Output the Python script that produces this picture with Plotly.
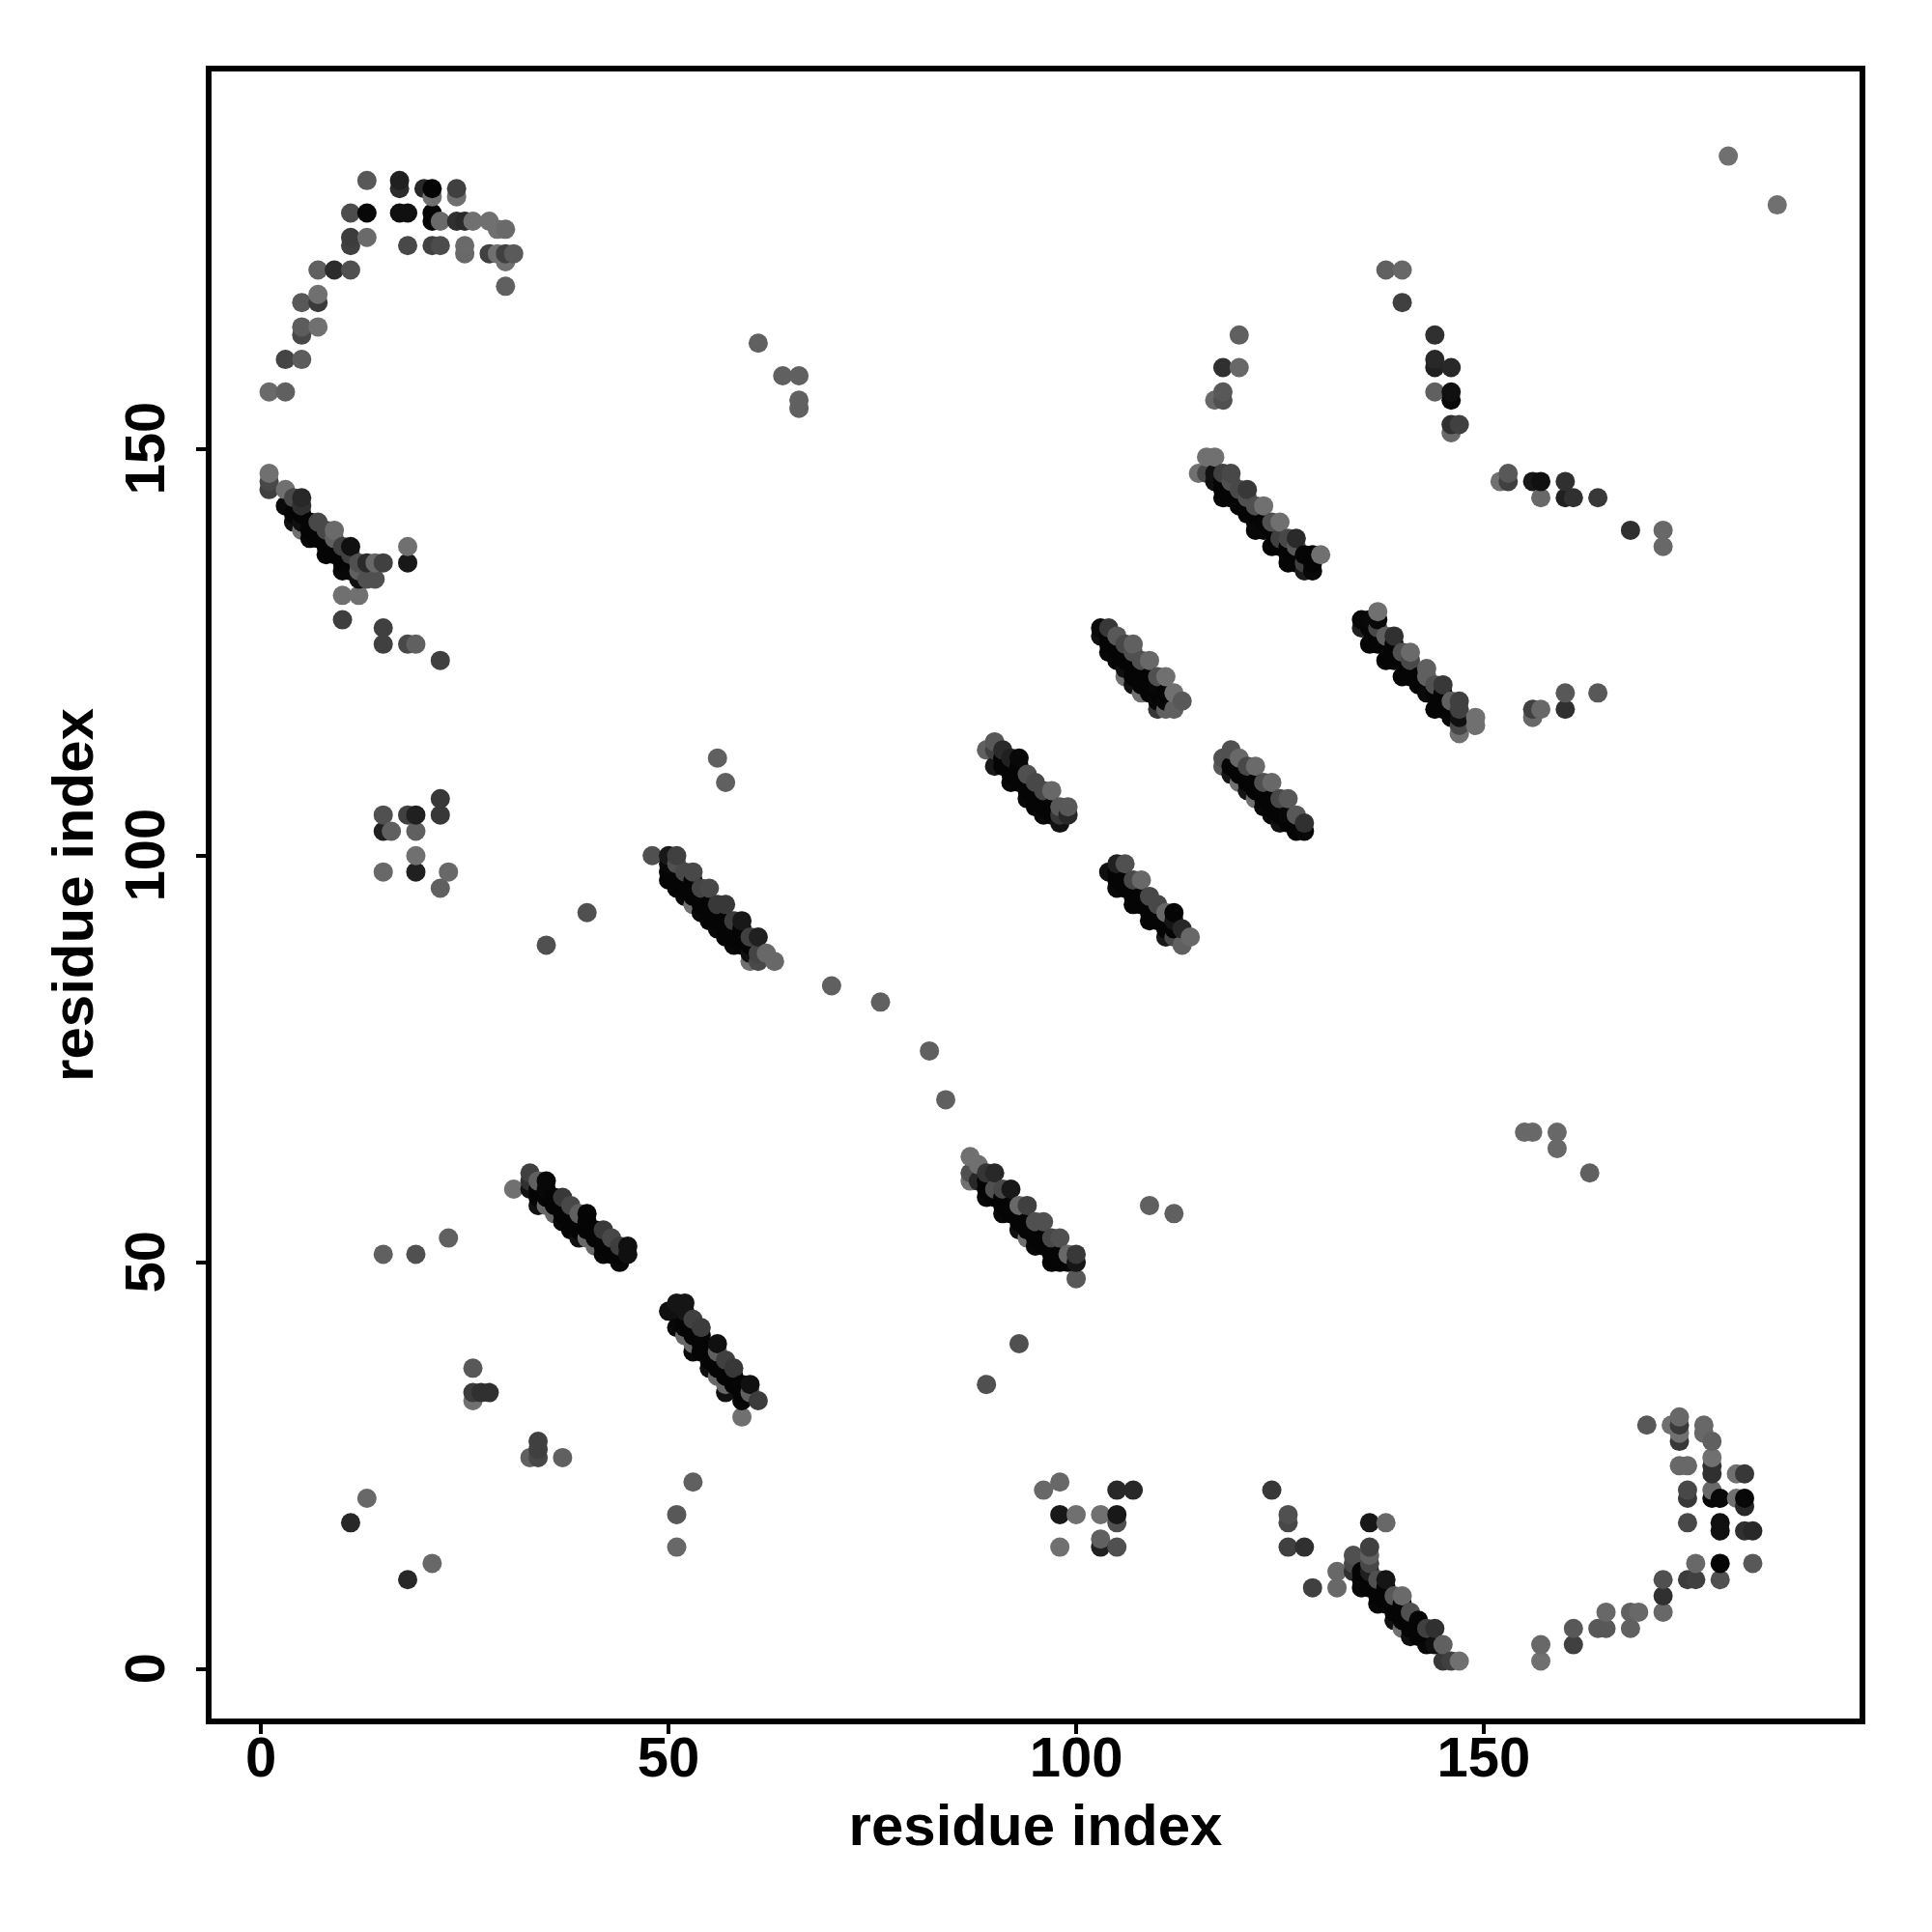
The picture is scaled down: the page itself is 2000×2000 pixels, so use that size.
import plotly.graph_objects as go

# Each contact: (residue i, residue j, grey level of the contact: 0 = strongest, 112 = weakest)
arc_top_left = [
(1,157,106),(3,157,96),(3,161,68),(5,161,92),(5,164,72),(5,165,92),(7,165,112),(5,168,88),(7,168,58),(7,169,112),
(7,172,96),(9,172,44),(11,172,80),(11,175,64),(11,176,60),(13,176,106),(11,179,76),(13,179,8),(13,183,88),
(17,183,32),(17,182,44),(17,179,16),(18,179,16),(18,175,72),(20,182,40),(21,182,5),(21,181,112),(24,182,64),(24,181,112),
(21,179,5),(21,178,5),(22,178,106),(24,178,48),(25,178,42),(26,178,112),(28,178,112),(29,177,112),(30,177,106),
(21,175,64),(22,175,76),(25,175,106),(25,174,104),(28,174,64),(29,174,112),(30,174,64),(31,174,90),(30,173,112),(30,170,96),
]
diag_1 = [
(1,147,112),(1,146,72),(1,145,64),(3,145,112),(4,144,72),(5,144,40),(5,143,48),(3,143,10),(4,141,16),(5,141,16),(6,141,5),
(7,141,72),(8,140,72),(9,140,106),(5,140,112),(6,139,8),(7,139,5),(9,139,96),(8,137,5),(9,137,5),(10,138,64),(11,138,16),
(10,135,8),(11,135,8),(11,137,64),(12,136,80),(13,136,42),(14,136,104),(15,136,64),(12,134,16),(13,134,80),(14,134,80),(12,135,96),
(18,138,112),(18,136,24),(10,132,112),(12,132,112),(10,129,62),(15,128,64),(15,126,64),(18,126,72),(19,126,96),(22,124,64),
(4,142,5),(5,142,5),(6,140,5),(7,140,5),(8,139,5),(8,138,5),(9,138,5),(10,137,5),(10,136,5),(11,136,5),
]
left_scatter = [
(15,51,96),(19,51,80),(23,53,96),(26,37,88),(26,34,60),(26,33,112),(27,34,48),(28,34,48),(34,28,64),(34,27,64),(33,26,96),(34,26,72),(37,26,96),
(13,21,104),(11,18,40),(18,11,40),(21,13,104),(35,89,80),(40,93,80),
(15,105,80),(18,105,64),(19,105,32),(22,107,56),(22,105,56),(15,103,32),(16,103,96),(19,103,96),(19,100,112),(19,98,32),(15,98,104),(23,98,104),(22,96,96),
(56,112,96),(57,109,96),(61,163,96),(64,159,96),(66,159,96),(66,156,96),(66,155,96),
(70,84,96),(76,82,96),(82,76,96),(84,70,96),(109,57,96),(112,56,96),(93,40,80),(89,35,80),(53,23,96),(51,19,88),(51,15,104),
]
lower_middle = [
(96,22,104),(98,23,104),(98,19,24),(100,19,112),(98,15,112),(103,19,112),(103,16,96),(103,15,32),(105,22,40),(107,22,40),(105,19,24),(105,18,80),(105,15,80),
(124,22,56),(126,19,80),(126,18,72),(126,15,64),(128,15,48),(129,10,64),
]
upper_right = [
(180,186,112),(186,180,112),(138,172,96),(140,172,104),(140,168,64),(144,164,48),(144,161,40),(144,160,32),(146,160,40),(144,157,96),(146,157,16),(146,156,8),
(146,153,48),(147,153,64),(146,152,104),(120,164,96),(118,160,48),(120,160,104),(118,157,88),(117,156,104),(118,156,80),
(152,146,112),(153,147,88),(153,146,64),(156,146,24),(157,146,16),(157,144,104),(160,146,48),(160,144,32),(161,144,48),(164,144,56),(168,140,48),(172,140,104),(172,138,104),
(156,118,64),(156,117,104),(157,118,104),(160,120,88),(160,118,48),(164,120,88),
(155,66,104),(156,66,104),(159,66,104),(159,64,104),(163,61,96),
]
diag_2 = [
(116,149,112),(117,149,112),(115,147,112),(116,147,72),(117,147,16),(118,147,64),(119,147,72),(117,146,16),(118,145,5),(118,144,8),(119,146,80),(120,145,72),(121,145,56),
(120,143,5),(121,144,80),(122,143,80),(123,143,112),(122,141,8),(122,140,8),(123,140,8),(124,141,80),(125,141,112),(124,138,5),(125,139,64),(126,139,72),(127,139,42),(127,138,88),
(126,136,5),(127,136,5),(128,137,5),(129,137,5),(130,137,112),(128,135,28),(129,135,8),(129,136,5),(128,136,64),
(118,146,5),(119,145,5),(119,144,5),(120,144,5),(121,143,5),(121,142,5),(122,142,5),(123,141,5),(124,140,5),(125,138,5),(126,138,5),(126,137,5),(127,137,5),
]
diag_3 = [
(135,129,8),(135,128,32),(136,129,8),(136,126,5),(137,130,112),(137,129,8),(137,128,72),(138,127,96),(139,127,48),(138,124,5),(137,126,5),(140,125,80),(141,125,106),(141,124,72),
(140,122,5),(141,122,5),(139,124,5),(143,123,96),(143,122,96),(143,120,10),(144,121,80),(145,121,56),(144,118,5),(146,119,96),(147,119,64),(147,118,64),(146,117,8),(147,117,16),
(147,116,72),(147,115,112),(149,117,112),(149,116,112),(145,118,5),
(136,128,5),(137,127,5),(138,126,5),(139,125,5),(139,126,5),(140,124,5),(141,123,5),(142,122,5),(142,121,5),(144,120,5),(145,119,5),(145,120,5),(146,118,5),
]
diag_4 = [
(103,128,10),(104,128,56),(103,127,16),(105,127,88),(104,125,8),(106,126,72),(107,126,96),(107,125,80),(106,123,16),(108,124,80),(109,124,104),(106,122,112),(107,121,16),
(110,122,80),(111,122,112),(108,120,112),(110,121,8),(112,120,112),(110,118,56),(111,118,96),(112,118,96),(113,119,88),(111,119,8),(109,120,5),(108,121,5),(107,122,5),(105,124,5),(110,119,8),
(104,127,5),(104,126,5),(105,126,5),(105,125,5),(106,125,5),(106,124,5),(107,124,5),(107,123,5),(108,123,5),(108,122,5),(109,122,5),(109,121,5),(110,120,5),(111,120,5),
]
diag_5 = [
(119,113,80),(118,111,88),(118,112,80),(120,112,104),(121,111,72),(122,111,106),(119,110,21),(120,109,112),(121,108,21),(122,107,112),(123,106,8),(124,109,104),(123,109,80),
(126,107,88),(125,107,72),(127,105,88),(125,104,16),(126,105,8),(128,104,48),(127,103,5),(128,103,8),(121,110,5),(122,109,5),(123,108,5),(124,107,5),(125,106,5),
(119,111,5),(120,111,5),(120,110,5),(121,109,5),(122,108,5),(123,107,5),(124,106,5),(124,105,5),(125,105,5),(126,104,5),(127,104,5),
]
diag_6 = [
(90,114,88),(89,113,96),(90,113,64),(91,113,42),(92,112,32),(93,112,8),(90,111,24),(92,111,5),(94,110,80),(95,109,72),(92,109,8),(93,109,5),(94,107,8),(97,108,104),(96,108,72),
(96,105,8),(98,106,88),(99,106,88),(99,105,40),(98,104,18),(97,106,5),(95,106,5),(98,105,56),
(91,112,5),(91,111,5),(92,110,5),(93,110,5),(93,111,5),(94,109,5),(94,108,5),(95,108,5),(95,107,5),(96,107,5),(96,106,5),(97,105,5),
]
diag_7 = [
(104,98,16),(105,99,32),(106,99,80),(105,96,8),(106,97,5),(107,97,72),(108,97,104),(107,94,5),(109,95,72),(110,94,72),(109,92,5),(108,95,5),(111,93,104),(112,93,5),(112,92,21),
(111,90,24),(113,91,40),(112,90,72),(113,89,96),(114,90,104),(110,92,5),(111,91,5),
(105,98,5),(105,97,5),(106,96,5),(107,96,5),(107,95,5),(108,94,5),(109,94,5),(109,93,5),(110,93,5),(111,92,5),(112,91,5),
]
diag_8 = [
(48,100,80),(50,100,24),(51,100,64),(50,99,8),(50,98,5),(50,97,5),(51,99,80),(52,98,72),(53,98,72),(52,95,8),(53,94,112),(54,93,8),(54,96,68),(55,96,72),(56,94,56),(57,94,56),
(56,91,8),(58,92,60),(59,92,24),(58,89,8),(60,90,64),(61,90,32),(60,88,16),(61,88,68),(62,88,104),(63,87,104),(60,87,112),(61,87,72),(53,97,5),(52,96,5),(54,95,5),(55,94,5),
(56,93,5),(57,92,5),(58,91,5),(59,90,5),(59,89,5),
(51,98,5),(51,97,5),(51,96,5),(52,97,5),(53,96,5),(53,95,5),(54,94,5),(55,93,5),(55,92,5),(56,92,5),(57,91,5),(57,90,5),(58,90,5),(59,91,5),(60,89,5),
]
diag_9 = [
(31,59,112),(33,61,64),(33,60,48),(33,59,16),(34,60,96),(35,60,8),(35,59,8),(34,58,5),(34,57,16),(35,57,104),(36,56,104),(36,58,5),(37,58,56),(38,57,72),(39,56,96),(37,56,5),(37,55,8),
(39,53,16),(40,56,5),(40,55,5),(40,53,104),(41,52,104),(42,54,58),(43,53,72),(42,51,8),(44,52,62),(45,52,16),(45,51,16),(44,50,8),(40,54,5),(42,52,5),(43,51,5),(39,55,5),(38,55,5),
(34,59,5),(35,58,5),(36,57,5),(37,57,5),(38,56,5),(38,54,5),(39,54,5),(41,54,5),(41,53,5),(42,53,5),(43,52,5),(44,51,5),
]
diag_10 = [
(50,44,16),(51,45,21),(52,45,21),(51,42,8),(52,44,21),(53,43,64),(54,42,60),(52,41,104),(53,39,8),(53,40,104),(55,37,16),(56,40,16),(56,39,96),(57,38,64),(58,37,56),(56,36,104),(57,35,104),
(57,34,16),(59,33,8),(60,35,16),(60,34,96),(61,33,60),(59,31,112),(54,40,5),(55,39,5),(56,37,5),(57,36,5),(58,35,5),(59,34,5),(52,43,5),(53,42,5),
(52,42,5),(53,41,5),(54,41,5),(54,39,5),(55,38,5),(56,38,5),(57,37,5),(58,36,5),(59,35,5),
]
diag_11 = [
(87,63,112),(88,62,112),(87,61,80),(87,60,112),(88,60,40),(89,61,53),(90,61,40),(89,58,8),(90,59,80),(92,59,24),(91,59,72),(91,56,8),(93,57,104),(94,57,64),(93,54,16),(94,53,112),
(95,55,80),(96,55,80),(95,52,8),(97,53,72),(98,53,80),(97,50,5),(99,51,104),(100,51,56),(100,50,21),(98,50,5),(99,50,5),(100,48,88),(90,58,5),(91,57,5),(92,57,5),(93,56,5),
(94,55,5),(95,53,5),(96,52,5),(97,51,5),
(89,60,5),(89,59,5),(91,58,5),(92,56,5),(93,55,5),(94,54,5),(95,54,5),(96,53,5),(97,52,5),(98,51,5),
]
diag_12 = [
(136,18,24),(138,18,104),(136,15,64),(136,14,96),(136,13,72),(136,12,32),(134,14,80),(134,13,72),(134,12,48),(132,12,104),(132,10,104),
(135,10,8),(135,11,8),(137,11,80),(138,11,21),(137,8,8),(139,9,88),(140,9,106),(139,6,16),(140,5,112),(141,7,80),(141,4,16),(143,5,64),(144,5,48),(143,3,8),(144,3,16),(145,3,96),
(145,1,56),(146,1,64),(147,1,112),(136,10,5),(137,9,5),(138,8,5),(139,7,5),(140,6,5),(141,5,5),(142,4,5),(143,4,5),
(135,12,5),(136,11,5),(137,10,5),(138,9,5),(138,10,5),(139,8,5),(140,7,5),(140,8,5),(141,6,5),(142,6,5),(142,5,5),
]
arc_bottom_right = [
(157,3,104),(157,1,112),(161,5,88),(161,3,64),(164,5,88),(165,5,88),(165,7,104),(168,7,96),(168,5,96),(169,7,104),(172,7,104),
(170,30,88),(173,30,112),(174,31,104),(174,30,58),(174,29,112),(174,28,56),(177,30,104),(177,29,104),(178,28,96),(174,25,104),(175,25,104),(178,26,112),(178,25,48),(178,24,48),(181,24,112),(182,24,56),
(175,22,72),(175,21,56),(178,22,104),(178,21,8),(179,21,8),(181,21,112),(182,21,8),(182,20,40),(175,18,72),(179,18,16),(179,17,16),(182,17,48),(183,17,40),
(176,13,104),(179,13,5),(183,13,88),(172,11,80),(175,11,60),(176,11,64),(179,11,80),(172,9,48),
]

regions = [arc_top_left, diag_1, left_scatter, lower_middle, upper_right, diag_2, diag_3, diag_4, diag_5,
           diag_6, diag_7, diag_8, diag_9, diag_10, diag_11, diag_12, arc_bottom_right]
contacts = sorted((c for r in regions for c in r), key=lambda c: (c[0], c[1]))
res_i = [c[0] for c in contacts]
res_j = [c[1] for c in contacts]
grey_level = [c[2] for c in contacts]

tick_vals = [0, 50, 100, 150]
axis_label = "residue index"

FONT = "Liberation Sans"
axis = dict(
    title=dict(text=f"<b>{axis_label}</b>", font=dict(family=FONT, size=60, color="black")),
    tickmode="array", tickvals=tick_vals, ticktext=[f"<b>{v}</b>" for v in tick_vals],
    tickfont=dict(family=FONT, size=58, color="black"),
    ticks="outside", ticklen=10, tickwidth=4, tickcolor="black",
    showline=True, linewidth=5.5, linecolor="black", mirror=True,
    showgrid=False, zeroline=False,
)

fig = go.Figure(go.Scatter(
    x=res_i, y=res_j, mode="markers", cliponaxis=True,
    marker=dict(size=20, line=dict(width=0), color=grey_level, cmin=0, cmax=112,
                colorscale=[[0, "#000000"], [1, "#707070"]], showscale=False),
))
fig.update_layout(
    width=2000, height=2000, autosize=False, showlegend=False,
    paper_bgcolor="white", plot_bgcolor="white",
    margin=dict(l=211, r=83, t=66, b=229),
    xaxis=dict(axis, range=[-6.06, 196.1], ticklabelstandoff=-25, automargin=True),
    yaxis=dict(axis, range=[-6.07, 196.4], tickangle=-90, ticklabelstandoff=10, ticklabelshift=8, automargin=False),
)
fig.update_xaxes(title_standoff=20)
fig.update_yaxes(title_standoff=3)
fig.write_html("out.html")
